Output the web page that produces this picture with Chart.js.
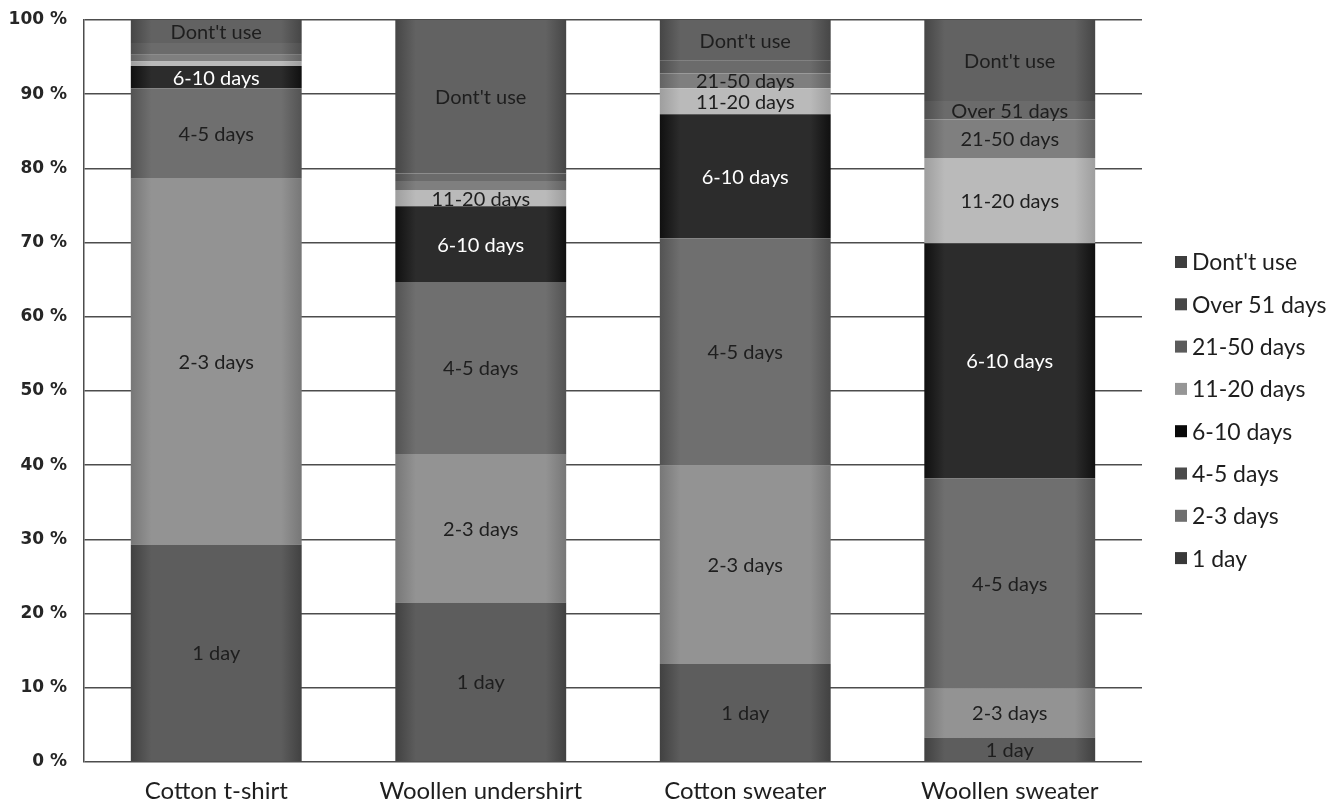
<!DOCTYPE html>
<html>
<head>
<meta charset="utf-8">
<script src="https://cdn.jsdelivr.net/npm/chart.js@4.4.0/dist/chart.umd.min.js"></script>
<style>
  html, body { margin: 0; padding: 0; background: #ffffff; }
  #wrap { width: 1330px; height: 805px; position: relative; }
</style>
</head>
<body>
<div id="wrap"><canvas id="chart"></canvas></div>
<script>
// Garments on the x axis
const categories = ['Cotton t-shirt', 'Woollen undershirt', 'Cotton sweater', 'Woollen sweater'];

// Stack order, bottom to top
const seriesNames = ['1 day', '2-3 days', '4-5 days', '6-10 days', '11-20 days', '21-50 days', 'Over 51 days', "Dont't use"];

// Share of respondents (%) per garment
const oneDay      = [29.3, 21.5, 13.2, 3.3];
const twoThree    = [49.3, 20.0, 26.8, 6.6];
const fourFive    = [12.2, 23.2, 30.6, 28.3];
const sixTen      = [3.0, 10.2, 16.7, 31.7];
const elevenTwenty= [0.6, 2.2, 3.5, 11.5];
const twentyFifty = [0.9, 1.2, 2.0, 5.2];
const overFifty   = [1.6, 1.0, 1.7, 2.5];
const dontUse     = [3.1, 20.7, 5.5, 10.9];

const seriesValues = [oneDay, twoThree, fourFive, sixTen, elevenTwenty, twentyFifty, overFifty, dontUse];

// Grey fill per series (centre tone of each bar segment)
const seriesColors = ['#5d5d5d', '#939393', '#6f6f6f', '#2c2c2c', '#bababa', '#7f7f7f', '#6b6b6b', '#626262'];
const labelColors  = ['#1e1e1e', '#1e1e1e', '#1e1e1e', '#ffffff', '#1e1e1e', '#1e1e1e', '#1e1e1e', '#1e1e1e'];

const yTicks = [0, 10, 20, 30, 40, 50, 60, 70, 80, 90, 100];

const BAR_PCT = 0.646;
const MIN_LABEL_SHARE = 1.8;

function darker(hex, amt) {
  const n = parseInt(hex.slice(1), 16);
  const r = Math.max(0, ((n >> 16) & 255) - amt);
  const g = Math.max(0, ((n >> 8) & 255) - amt);
  const b = Math.max(0, (n & 255) - amt);
  return `rgb(${r},${g},${b})`;
}

// Horizontal shading: darker toward the bar edges
function shadedFill(color) {
  return (c) => {
    const xs = c.chart.scales && c.chart.scales.x;
    if (!xs || !xs.width || c.dataIndex === undefined) return color;
    const center = xs.getPixelForValue(c.dataIndex);
    const half = (xs.width / categories.length) * BAR_PCT / 2;
    const g = c.chart.ctx.createLinearGradient(center - half, 0, center + half, 0);
    const edge = darker(color, 28);
    g.addColorStop(0, edge);
    g.addColorStop(0.12, color);
    g.addColorStop(0.88, color);
    g.addColorStop(1, edge);
    return g;
  };
}

const datasets = seriesNames.map((name, i) => ({
  label: name,
  data: seriesValues[i],
  backgroundColor: shadedFill(seriesColors[i]),
  borderWidth: 0,
  barPercentage: BAR_PCT,
  categoryPercentage: 1.0
}));

// Series name written inside each segment that is tall enough
const segmentLabels = {
  id: 'segmentLabels',
  afterDatasetsDraw(chart) {
    const ctx = chart.ctx;
    ctx.save();
    ctx.font = '20px Lato';
    ctx.textAlign = 'center';
    ctx.textBaseline = 'middle';
    chart.data.datasets.forEach((ds, i) => {
      const meta = chart.getDatasetMeta(i);
      meta.data.forEach((bar, j) => {
        if (ds.data[j] < MIN_LABEL_SHARE) return;
        ctx.fillStyle = labelColors[i];
        ctx.fillText(ds.label, bar.x, (bar.y + bar.base) / 2 + 1);
      });
    });
    ctx.restore();
  }
};

// Legend on the right, top entry = top of stack
const sideLegend = {
  id: 'sideLegend',
  afterDraw(chart) {
    const ctx = chart.ctx;
    ctx.save();
    ctx.font = '23px Lato';
    ctx.textAlign = 'left';
    ctx.textBaseline = 'middle';
    const n = seriesNames.length;
    for (let k = 0; k < n; k++) {
      const i = n - 1 - k;
      const y = 262 + k * 42.3;
      ctx.fillStyle = darker(seriesColors[i], 36);
      ctx.fillRect(1175, y - 6, 12, 12);
      ctx.fillStyle = '#1e1e1e';
      ctx.fillText(seriesNames[i], 1192, y + 1);
    }
    ctx.restore();
  }
};

new Chart(document.getElementById('chart'), {
  type: 'bar',
  data: { labels: categories, datasets },
  options: {
    responsive: true,
    maintainAspectRatio: false,
    animation: false,
    layout: { padding: { top: 20, right: 188, bottom: 0, left: 0 } },
    plugins: {
      legend: { display: false },
      tooltip: { enabled: false }
    },
    scales: {
      x: {
        stacked: true,
        grid: { display: false },
        border: { display: false },
        ticks: { color: '#1e1e1e', font: { family: 'Lato', size: 24 }, padding: 7 },
        afterFit(scale) {
          scale.height = 43;
          scale.paddingLeft = 0;
          scale.paddingRight = 0;
        }
      },
      y: {
        stacked: true,
        min: 0,
        max: 100,
        afterBuildTicks(scale) { scale.ticks = yTicks.map(v => ({ value: v })); },
        grid: { color: '#4d4d4d', lineWidth: 1.5, drawTicks: false },
        border: { display: true, color: '#4d4d4d', width: 1.5 },
        ticks: {
          color: '#262626',
          padding: 17,
          font: { family: 'DejaVu Sans', size: 17, weight: 'bold' },
          callback: (v) => v + ' %'
        },
        afterFit(scale) {
          scale.width = 84;
          scale.paddingTop = 0;
          scale.paddingBottom = 0;
        }
      }
    }
  },
  plugins: [segmentLabels, sideLegend]
});
</script>
</body>
</html>
